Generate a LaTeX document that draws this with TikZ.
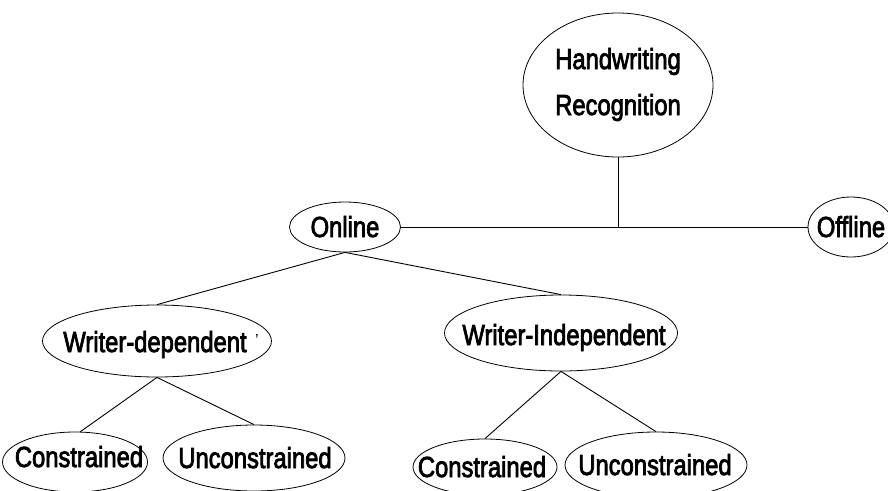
\documentclass[tikz,border=0pt]{standalone}
\usepackage{fontspec}
\setmainfont{Liberation Sans}
\newfontfamily\fbfont[FakeBold=3]{Liberation Sans}
\newcommand\sx[1]{\scalebox{0.82}[1]{#1}}
\usetikzlibrary{shapes.geometric}
\begin{document}
\begin{tikzpicture}[x=1pt,y=-1pt,
  ell/.style={draw, ellipse, line width=0.8pt, inner sep=0pt},
  txt/.style={inner sep=0pt, anchor=base, align=center, font=\fbfont\fontsize{29}{46}\selectfont},
  conn/.style={line width=0.9pt}]
\useasboundingbox (0,0) rectangle (888,490);
% ellipses
\node[ell, minimum width=190pt, minimum height=144pt] (hr) at (618,85) {};
\node[ell, minimum width=111pt, minimum height=50pt] (on) at (345,227) {};
\node[ell, minimum width=86pt, minimum height=60pt] (off) at (851,227) {};
\node[ell, minimum width=229pt, minimum height=72pt] (wd) at (157,341) {};
\node[ell, minimum width=233pt, minimum height=76pt] (wi) at (561,333) {};
\node[ell, minimum width=145pt, minimum height=60pt] (c1) at (75,462) {};
\node[ell, minimum width=182pt, minimum height=66pt] (u1) at (254,458) {};
\node[ell, minimum width=144pt, minimum height=56pt] (c2) at (485,467) {};
\node[ell, minimum width=182pt, minimum height=66pt] (u2) at (656,465) {};
% texts
\node[txt] (hrt) at (618,115) {\sx{Handwriting}\\\sx{Recognition}};
\node[txt] (ont) at (345,237) {\sx{Online}};
\node[txt] (offt) at (851,237) {\sx{Offline}};
\node[txt] (wdt) at (155,352) {\sx{Writer-dependent}};
\node[inner sep=0pt, font=\fontsize{16}{16}\selectfont] (wdm) at (257,340) {'};
\node[txt] (wit) at (564,345) {\sx{Writer-Independent}};
\node[txt] (c1t) at (79,467) {\sx{Constrained}};
\node[txt] (u1t) at (255,468) {\sx{Unconstrained}};
\node[txt] (c2t) at (482,477) {\sx{Constrained}};
\node[txt] (u2t) at (655,475) {\sx{Unconstrained}};
% connectors
\coordinate (j) at (hr.south |- on.east);
\draw[conn] (on.east) -- (off.west);
\draw[conn] (hr.south) -- (j);
\draw[conn] (on.south) -- (wd.north);
\draw[conn] (on.south) -- (wi.north);
\draw[conn] (wd.south) -- (c1.80);
\draw[conn] (wd.south) -- (u1.north);
\draw[conn] (wi.south) -- (c2.north);
\draw[conn] (wi.south) -- (u2.north);
\end{tikzpicture}
\end{document}
